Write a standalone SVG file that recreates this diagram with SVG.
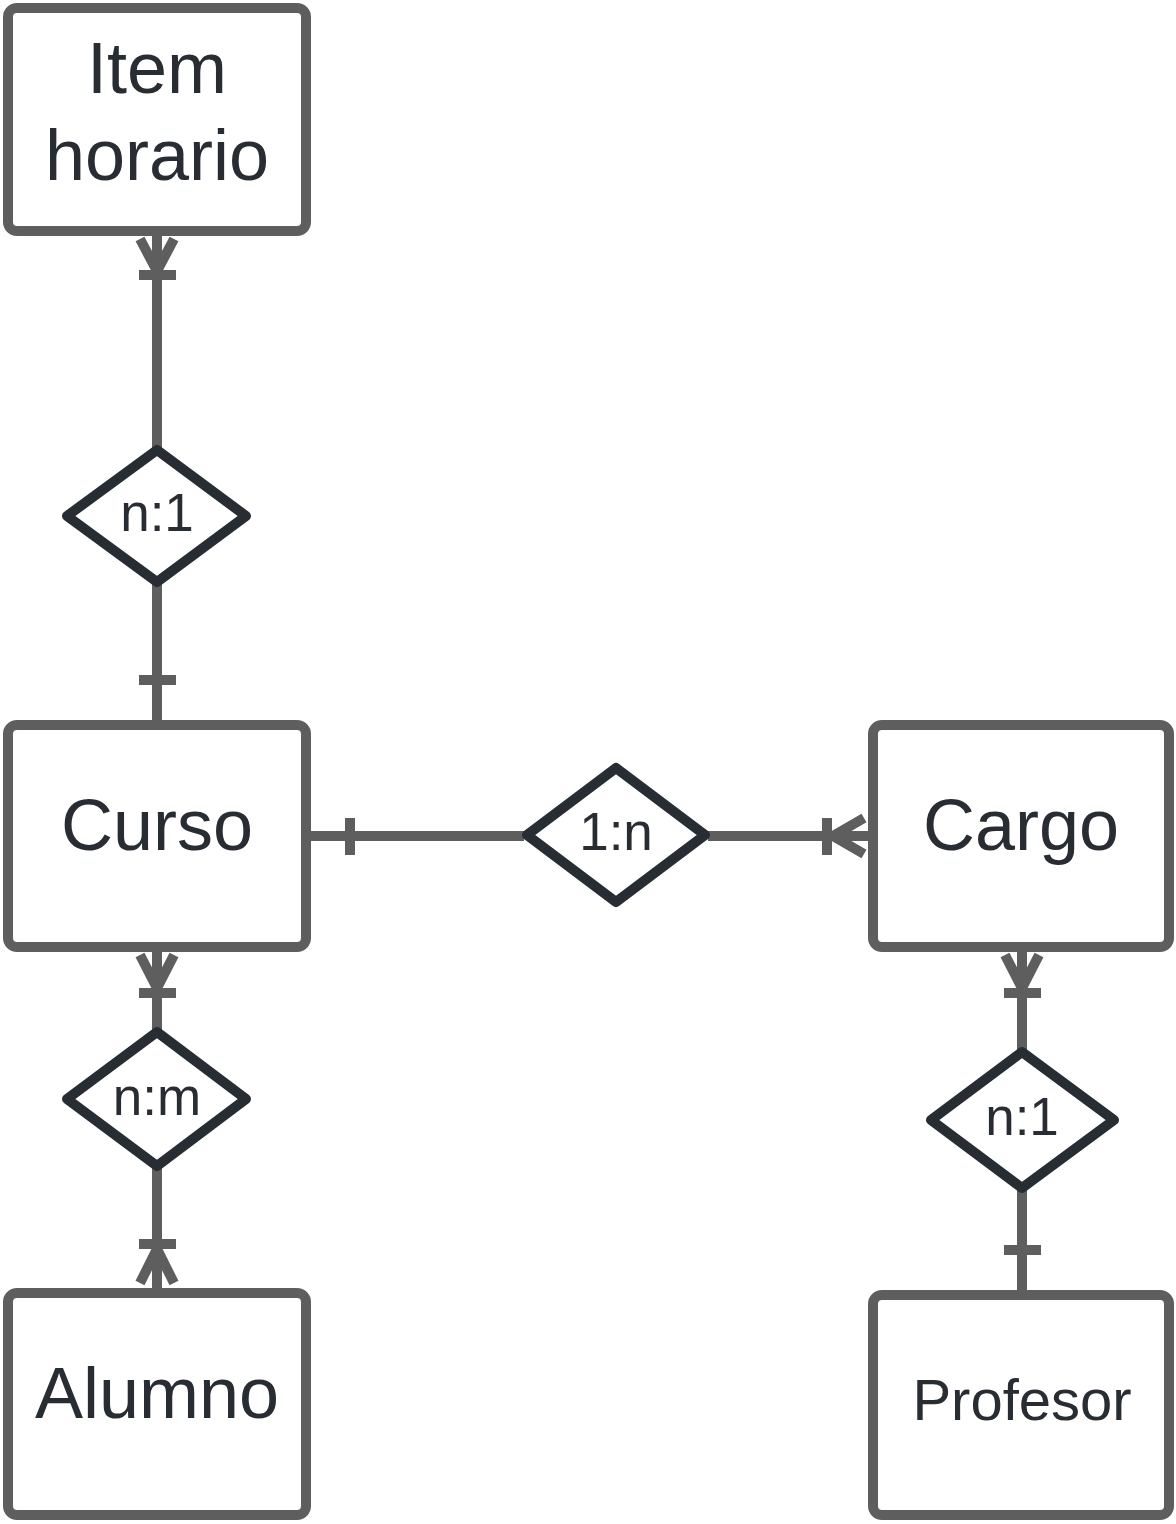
<svg xmlns="http://www.w3.org/2000/svg" width="1176" height="1524" viewBox="0 0 1176 1524">
<style>
.ent{fill:#fff;stroke:#5e5e5e;stroke-width:10}
.rel{fill:#fff;stroke:#282c33;stroke-width:10;stroke-linejoin:round}
.c{fill:none;stroke:#5e5e5e;stroke-width:10}
.t{font-family:"Liberation Sans",Arial,sans-serif;fill:#282c33;text-anchor:middle}
.big{font-size:72px}
.mid{font-size:58px}
.sm{font-size:53px}
</style>
<rect width="1176" height="1524" fill="#fff"/>
<g id="connectors">
<!-- Item horario - n:1 -->
<path class="c" d="M157 236V448"/>
<path class="c" d="M139 275H176M140 239L157 271L174 239"/>
<!-- n:1 - Curso -->
<path class="c" d="M157 584V720"/>
<path class="c" d="M139 680H176"/>
<!-- Curso - 1:n -->
<path class="c" d="M311 836H524"/>
<path class="c" d="M350 818V855"/>
<!-- 1:n - Cargo -->
<path class="c" d="M708 836H868"/>
<path class="c" d="M827 818V855M864 818L833 836L864 854"/>
<!-- Curso - n:m -->
<path class="c" d="M157 952V1032"/>
<path class="c" d="M139 993H176M140 955L157 988L174 955"/>
<!-- n:m - Alumno -->
<path class="c" d="M157 1166V1288"/>
<path class="c" d="M139 1244H176M140 1283L157 1249L174 1283"/>
<!-- Cargo - n:1 -->
<path class="c" d="M1022 952V1052"/>
<path class="c" d="M1004 993H1041M1005 955L1022 988L1039 955"/>
<!-- n:1 - Profesor -->
<path class="c" d="M1022 1188V1290"/>
<path class="c" d="M1004 1250H1041"/>
</g>
<g id="item-horario">
<rect class="ent" x="8" y="8" width="298" height="223" rx="9"/>
<text class="t big" x="157" y="93">Item</text>
<text class="t big" x="157" y="180">horario</text>
</g>
<g id="curso">
<rect class="ent" x="8" y="725" width="298" height="222" rx="9"/>
<text class="t big" x="157" y="850">Curso</text>
</g>
<g id="cargo">
<rect class="ent" x="873" y="725" width="296" height="222" rx="9"/>
<text class="t big" x="1021" y="850">Cargo</text>
</g>
<g id="alumno">
<rect class="ent" x="8" y="1293" width="298" height="222" rx="9"/>
<text class="t big" x="157" y="1418">Alumno</text>
</g>
<g id="profesor">
<rect class="ent" x="873" y="1295" width="296" height="220" rx="9"/>
<text class="t mid" x="1022" y="1420">Profesor</text>
</g>
<g id="rel-item-curso">
<path class="rel" d="M157 450L246 516L157 582L67 516Z"/>
<text class="t sm" x="157" y="531">n:1</text>
</g>
<g id="rel-curso-cargo">
<path class="rel" d="M616 768L705 835L616 902L527 835Z"/>
<text class="t sm" x="616" y="850">1:n</text>
</g>
<g id="rel-curso-alumno">
<path class="rel" d="M157 1032L246 1099L157 1166L67 1099Z"/>
<text class="t sm" x="157" y="1115">n:m</text>
</g>
<g id="rel-cargo-profesor">
<path class="rel" d="M1022 1052L1114 1120L1022 1188L931 1120Z"/>
<text class="t sm" x="1022" y="1135">n:1</text>
</g>
</svg>
